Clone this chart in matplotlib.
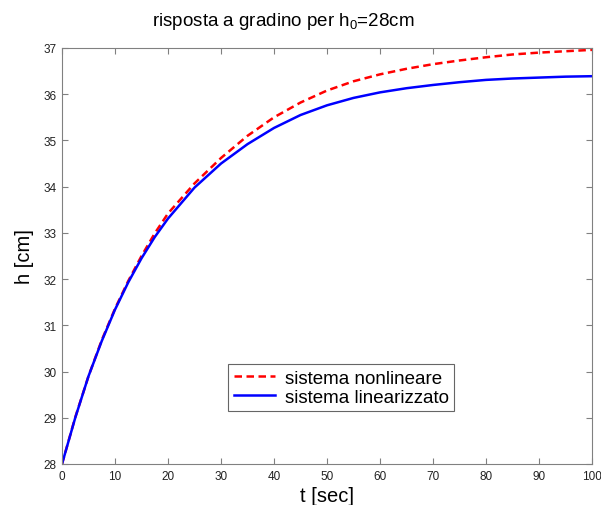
import matplotlib
matplotlib.use("Agg")
import matplotlib.pyplot as plt

plt.rcParams['font.family'] = ['Liberation Sans', 'DejaVu Sans']
plt.rcParams['mathtext.fontset'] = 'custom'
plt.rcParams['mathtext.rm'] = 'Liberation Sans'
plt.rcParams['mathtext.it'] = 'Liberation Sans'

# time samples [sec]
t = [0, 2.5, 5, 7.5, 10, 12.5, 15, 17.5, 20, 25, 30, 35, 40, 45, 50, 55, 60,
     65, 70, 75, 80, 85, 90, 95, 100]
# nonlinear system response h [cm]
h_nonlin = [28.00, 29.01, 29.90, 30.68, 31.36, 31.96, 32.50, 32.99, 33.42,
            34.07, 34.62, 35.10, 35.50, 35.82, 36.08, 36.28, 36.43, 36.55,
            36.65, 36.73, 36.80, 36.86, 36.90, 36.93, 36.96]
# linearized system response h [cm]
h_lin = [28.00, 29.00, 29.90, 30.66, 31.34, 31.93, 32.45, 32.91, 33.31,
         33.98, 34.50, 34.92, 35.27, 35.55, 35.76, 35.92, 36.04, 36.13,
         36.20, 36.26, 36.31, 36.34, 36.36, 36.38, 36.39]

xticks = [0, 10, 20, 30, 40, 50, 60, 70, 80, 90, 100]
yticks = [28, 29, 30, 31, 32, 33, 34, 35, 36, 37]

fig = plt.figure(figsize=(6.01, 5.06), dpi=100)
fig.patch.set_facecolor('white')
ax = fig.add_axes([62/601, 1-465/506, 530/601, 416/506])

ax.plot(t, h_nonlin, color='#ff0000', lw=1.8, linestyle=(0, (3, 1.8)),
        label='sistema nonlineare')
ax.plot(t, h_lin, color='#0000ff', lw=1.8, label='sistema linearizzato')

ax.set_xlim(0, 100)
ax.set_ylim(28, 37)
ax.set_xticks(xticks)
ax.set_yticks(yticks)
ax.tick_params(direction='in', length=4, width=0.8, colors='#808080',
               labelcolor='#222222', labelsize=8.5, top=True, right=True, pad=4)
for s in ax.spines.values():
    s.set_color('#808080')
    s.set_linewidth(0.8)

ax.set_xlabel('t [sec]', fontsize=14.5, labelpad=3)
ax.set_ylabel('h [cm]', fontsize=14.5, labelpad=7)
fig.text(283/601, 1-22/506, r'risposta a gradino per h$_0$=28cm',
         fontsize=13.5, ha='center', va='center')

leg = ax.legend(loc='center', bbox_to_anchor=(0.527, 0.184), fontsize=13.5,
                frameon=True, fancybox=False, edgecolor='#404040',
                handlelength=2.2, handletextpad=0.5, borderpad=0.3,
                labelspacing=0.1, borderaxespad=0)
leg.get_frame().set_linewidth(0.8)

fig.savefig('out.png', dpi=100, facecolor='white')
